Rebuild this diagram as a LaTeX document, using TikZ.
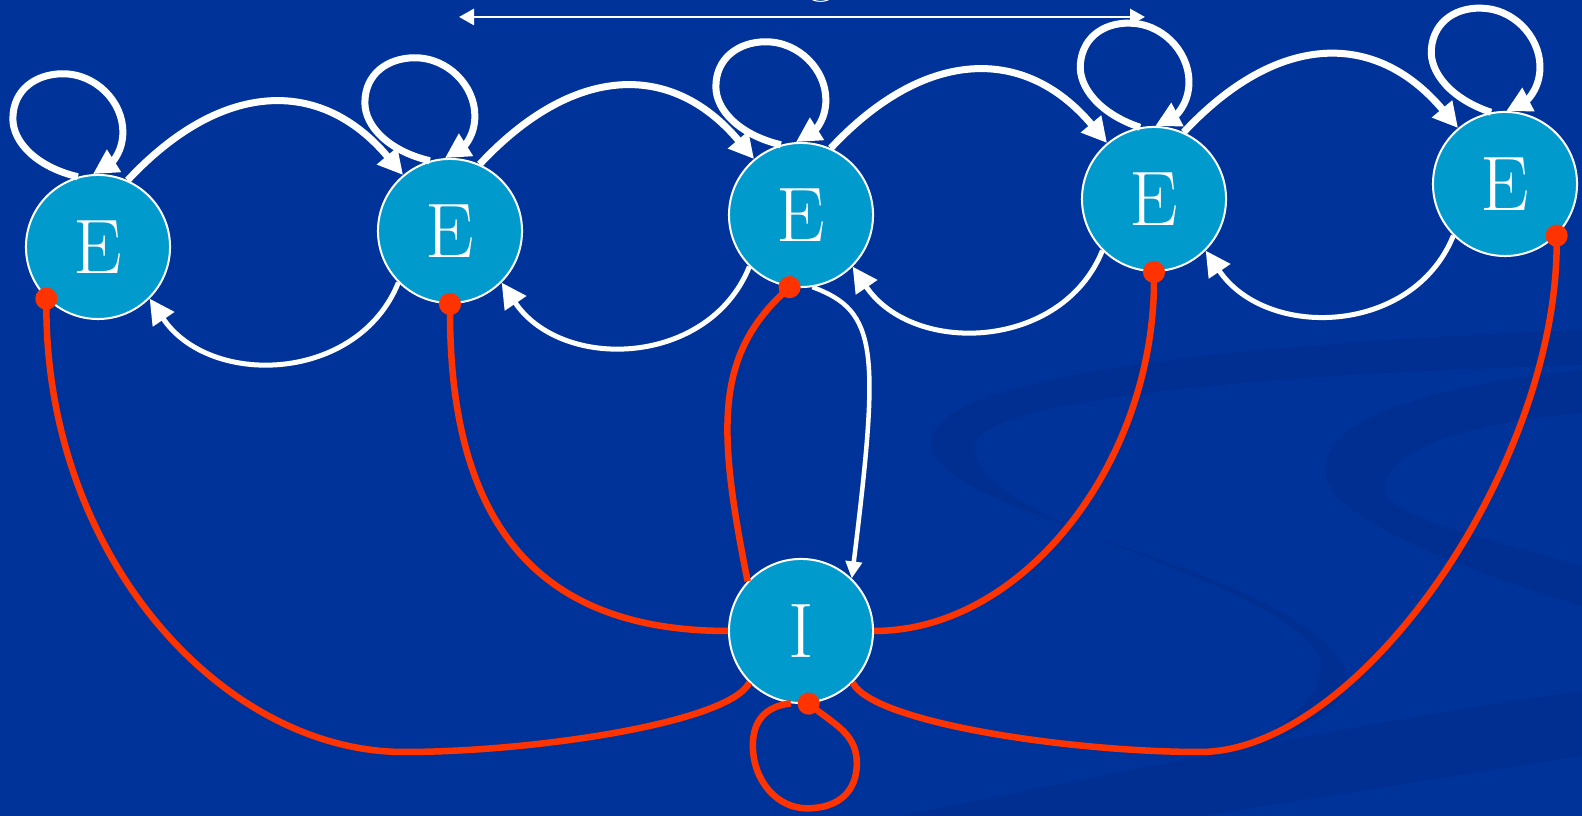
\documentclass[tikz,border=0pt]{standalone}
\usetikzlibrary{arrows.meta}
\definecolor{bgblue}{RGB}{0,51,153}
\definecolor{swoosh}{RGB}{0,47,145}
\definecolor{statefill}{RGB}{0,155,204}
\definecolor{linkred}{RGB}{255,51,0}
\tikzset{
  estate/.style={circle, fill=statefill, draw=white, line width=0.02cm,
    minimum size=1.44cm, inner sep=0pt, text=white,
    font=\fontsize{22}{26}\selectfont},
  wtip/.style={-{Triangle[length=0.25cm,width=0.25cm]}},
  fwd/.style={draw=white, line width=0.07cm, wtip},
  bck/.style={draw=white, line width=0.05cm, wtip},
  loopst/.style={draw=white, line width=0.07cm, wtip},
  dropedge/.style={draw=white, line width=0.045cm,
    -{Triangle[length=0.17cm,width=0.16cm]}},
  redlink/.style={draw=linkred, line width=0.065cm,
    -{Circle[length=0.22cm,width=0.22cm]}, shorten >=-0.11cm},
  dimline/.style={draw=white, line width=0.028cm,
    {Triangle[length=0.15cm,width=0.16cm]}-{Triangle[length=0.15cm,width=0.16cm]}},
}
% self-loop above a state; #2 tilts the loop
\newcommand{\selfloop}[2]{%
  \pgfmathtruncatemacro{\lpA}{106+#2}%
  \pgfmathtruncatemacro{\lpB}{94+#2}%
  \begin{scope}[rotate=#2]
    \draw[loopst] (#1.\lpA) .. controls +(-42,10) and +(0,-23) .. ++(-65,58)
      .. controls +(0,29) and +(-27,0) .. ++(50,45)
      .. controls +(33,0) and +(0,30) .. ++(60,-58)
      .. controls +(0,-20) and +(19,12) .. (#1.\lpB);
  \end{scope}}
\begin{document}
\begin{tikzpicture}[x=0.01cm, y=0.01cm]
\useasboundingbox (0,0) rectangle (1582,816);
\clip (0,0) rectangle (1582,816);
\fill[bgblue] (0,0) rectangle (1582,816);

% background swooshes
\fill[swoosh] (1582,486) .. controls (1200,471) and (910,436) .. (932,366)
  .. controls (955,296) and (1300,246) .. (1345,146)
  .. controls (1370,86) and (1150,26) .. (1000,0)
  -- (1060,0) .. controls (1200,36) and (1330,96) .. (1320,156)
  .. controls (1290,236) and (985,286) .. (975,366)
  .. controls (965,416) and (1250,441) .. (1582,451) -- cycle;
\fill[swoosh] (1582,446) .. controls (1420,430) and (1300,390) .. (1330,330)
  .. controls (1350,290) and (1480,240) .. (1582,210)
  -- (1582,250) .. controls (1480,280) and (1380,300) .. (1385,330)
  .. controls (1390,370) and (1480,395) .. (1582,403) -- cycle;
\fill[swoosh] (900,0) .. controls (1200,60) and (1400,100) .. (1582,125)
  -- (1582,60) .. controls (1450,40) and (1300,15) .. (1200,0) -- cycle;

% states
\node[estate] (E1) at (98,569) {E};
\node[estate] (E2) at (450,585) {E};
\node[estate] (E3) at (801,601) {E};
\node[estate] (E4) at (1154,617) {E};
\node[estate] (E5) at (1505,632) {E};
\node[estate] (I) at (801,185) {I};

% dimension arrow and its label
\coordinate (dimL) at (459,799);
\coordinate (dimR) at (1145,799);
\draw[dimline] (dimL) -- (dimR);
\node[text=white, font=\fontsize{18}{20}\selectfont, anchor=base] (cap) at (821,826) {g};

% self-loops
\selfloop{E1}{0}
\selfloop{E2}{0}
\selfloop{E3}{0}
\selfloop{E4}{-5}
\selfloop{E5}{-5}

% forward transitions
\draw[fwd] (E1.66) .. controls +(47:135) and +(130:130) .. (E2.130);
\draw[fwd] (E2.66) .. controls +(47:135) and +(130:130) .. (E3.130);
\draw[fwd] (E3.66) .. controls +(47:135) and +(130:130) .. (E4.130);
\draw[fwd] (E4.66) .. controls +(47:135) and +(130:130) .. (E5.130);

% backward transitions
\draw[bck] (E2.225) .. controls +(248:108) and +(-56:108) .. (E1.315);
\draw[bck] (E3.225) .. controls +(248:108) and +(-56:108) .. (E2.315);
\draw[bck] (E4.225) .. controls +(248:108) and +(-56:108) .. (E3.315);
\draw[bck] (E5.225) .. controls +(248:108) and +(-56:108) .. (E4.315);

% E3 to I
\draw[dropedge] (E3.279) .. controls +(-20:70) and +(83:230) .. (I.46);

% links from I
\coordinate (lowL) at (404,64);
\coordinate (lowR) at (1200,64);
\draw[redlink] (I.225) .. controls +(-20,-40) and +(130,0) .. (lowL)
  .. controls +(-180,0) and +(0,-260) .. (E1.225);
\draw[redlink] (I.180) .. controls +(-190,0) and +(0,-220) .. (E2.270);
\draw[redlink] (I.137) .. controls +(-30,150) and +(-75,-70) .. (E3.261);
\draw[redlink] (I.0) .. controls +(150,0) and +(0,-190) .. (E4.270);
\draw[redlink] (I.-45) .. controls +(20,-40) and +(-130,0) .. (lowR)
  .. controls +(160,0) and +(0,-230) .. (E5.315);
\draw[redlink] (I.262) .. controls +(-25,-3) and +(0,25) .. ++(-38,-42)
  .. controls +(0,-35) and +(-30,0) .. ++(54,-63)
  .. controls +(32,0) and +(0,-28) .. ++(50,45)
  .. controls +(0,28) and +(28,-22) .. (I.276);
\end{tikzpicture}
\end{document}
